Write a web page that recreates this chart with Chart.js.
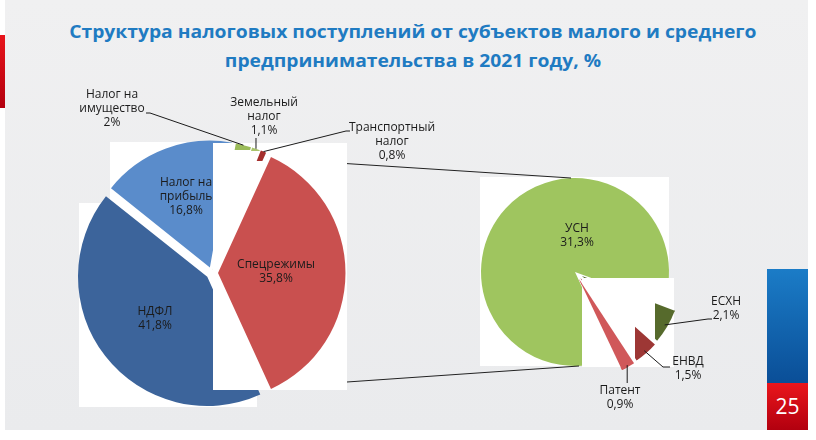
<!DOCTYPE html>
<html lang="ru">
<head>
<meta charset="utf-8">
<title>Структура налоговых поступлений МСП 2021</title>
<script src="https://cdn.jsdelivr.net/npm/chart.js"></script>
<style>
    html, body { margin: 0; padding: 0; background: #fff; }
    body { width: 816px; height: 440px; position: relative; overflow: hidden; font-family: 'Open Sans', sans-serif; }
    .slide { position: absolute; left: 5px; top: 0; width: 803px; height: 430px; background: linear-gradient(180deg, #f0f0f1 0%, #eaebed 100%); }
    .side-mark { position: absolute; left: 0; top: 35px; width: 5px; height: 73px; background: linear-gradient(#e8141b, #b3000e); }
    .page-tab { position: absolute; left: 767px; top: 269px; width: 41px; height: 114px; background: linear-gradient(#1b7cc7, #0a4e97); }
    .page-num { position: absolute; left: 767px; top: 383px; width: 41px; height: 47px; background: linear-gradient(#ea161c, #b2000f); color: #fff; font-size: 21px; line-height: 47px; text-align: center; }
    .title { position: absolute; left: 5px; width: 816px; text-align: center; line-height: 24px; }
    .title span { display: inline-block; font-weight: 700; font-size: 18px; color: #1f7bc2; white-space: nowrap; }
    canvas { position: absolute; left: 0; top: 0; }
</style>
</head>
<body>
<div class="slide"></div>
<div class="side-mark"></div>
<div class="title" style="top:19px"><span data-w="687">Структура налоговых поступлений от субъектов малого и среднего</span></div>
<div class="title" style="top:48px"><span data-w="376">предпринимательства в 2021 году, %</span></div>
<canvas id="subChart" width="816" height="440"></canvas>
<canvas id="mainChart" width="816" height="440"></canvas>
<div class="page-tab"></div>
<div class="page-num">25</div>

<script>
// main pie
const mainCategories = ['Спецрежимы', 'НДФЛ', 'Налог на прибыль', 'Налог на имущество', 'Земельный налог', 'Транспортный налог'];
const mainValues = [35.8, 41.8, 16.8, 2, 1.1, 0.8];
const mainColors = ['#c9504f', '#3c649b', '#5a8ccb', '#9bbb59', '#a9c46c', '#a5302e'];

// breakdown of "Спецрежимы"
const subCategories = ['ЕСХН', 'ЕНВД', 'Патент', 'УСН'];
const subValues = [2.1, 1.5, 0.9, 31.3];
const subColors = ['#566a2c', '#9d3735', '#d0585a', '#9fc55f'];

// label placement, px from the pie centre
const mainLabels = [
    { i: 2, lines: ['Налог на', 'прибыль'], dx: -26, dy: -90, under: true },
    { i: 0, lines: ['Спецрежимы'], dx: 64, dy: -8 },
    { i: 1, lines: ['НДФЛ'], dx: -57, dy: 39 },
    { i: 3, lines: ['Налог на', 'имущество'], dx: -100, dy: -178, leader: [[-62, -160], [-66, -160]] },
    { i: 4, lines: ['Земельный', 'налог'], dx: 52, dy: -170, drop: -135 },
    { i: 5, lines: ['Транспортный', 'налог'], dx: 180, dy: -145, leader: [[134, -142], [138, -142]] }
];
const subLabels = [
    { i: 3, lines: ['УСН'], dx: 2, dy: -43 },
    { i: 0, lines: ['ЕСХН'], dx: 151, dy: 30, inset: 3, leader: [[133, 47], [137, 47]] },
    { i: 1, lines: ['ЕНВД'], dx: 113, dy: 90, inset: 3, leader: [[88, 95], [95, 95]] },
    { i: 2, lines: ['Патент'], dx: 45, dy: 119, inset: 2, drop: 111 }
];

const fmt = v => String(v).replace('.', ',') + '%';

// outer point of a slice along its middle, taking the explode offset into account
function tip(el, inset) {
    const mid = (el.startAngle + el.endAngle) / 2;
    const shift = (el.options.offset || 0) / 4;
    const span = el.endAngle - el.startAngle;
    const r = el.outerRadius + shift * (1 - Math.sin(Math.min(Math.PI, span))) - (inset || 0);
    return { x: el.x + Math.cos(mid) * (shift + r), y: el.y + Math.sin(mid) * (shift + r) };
}

function drawLabel(ctx, arcs, lab, values) {
    const el = arcs[lab.i];
    const c = { x: el.x, y: el.y };
    ctx.save();
    ctx.font = '12px "Open Sans"';
    ctx.fillStyle = '#1b1b1b';
    ctx.textAlign = 'center';
    ctx.textBaseline = 'middle';
    lab.lines.concat(fmt(values[lab.i])).forEach((t, k) => {
        ctx.fillText(t, c.x + lab.dx, c.y + lab.dy + k * 14);
    });
    if (lab.leader || lab.drop) {
        const p = tip(el, lab.inset);
        ctx.strokeStyle = '#1b1b1b';
        ctx.lineWidth = 1;
        ctx.beginPath();
        ctx.moveTo(p.x, p.y);
        if (lab.drop) {
            ctx.lineTo(p.x, c.y + lab.drop);
        } else {
            lab.leader.forEach(q => ctx.lineTo(c.x + q[0], c.y + q[1]));
        }
        ctx.stroke();
    }
    ctx.restore();
}

const subPlugin = {
    id: 'subPie',
    beforeDatasetsDraw(chart) {
        const el = chart.getDatasetMeta(0).data[0];
        const ctx = chart.ctx;
        ctx.save();
        ctx.fillStyle = '#fff';
        ctx.fillRect(el.x - 95, el.y - 95, 189, 189);
        ctx.restore();
    },
    afterDatasetsDraw(chart) {
        const arcs = chart.getDatasetMeta(0).data;
        const ctx = chart.ctx;
        const c = { x: arcs[0].x, y: arcs[0].y };
        ctx.save();
        ctx.fillStyle = '#fff';
        ctx.fillRect(c.x + 7, c.y + 6, 92, 89);
        ctx.restore();
        // each small slice sits on its own cut-out, clipped on the left
        const cuts = [80, 60, null];
        cuts.forEach((cut, i) => {
            ctx.save();
            if (cut !== null) {
                ctx.beginPath();
                ctx.rect(c.x + cut, 0, chart.width, chart.height);
                ctx.clip();
            }
            arcs[i].draw(ctx);
            ctx.restore();
        });
        subLabels.forEach(l => drawLabel(ctx, arcs, l, subValues));
    }
};

let subChart;

const mainPlugin = {
    id: 'mainPie',
    beforeDatasetsDraw(chart) {
        const arcs = chart.getDatasetMeta(0).data;
        const ctx = chart.ctx;
        const spec = arcs[0];
        const c = { x: spec.x, y: spec.y };
        const r = spec.outerRadius;
        const sub = subChart.getDatasetMeta(0).data[0];
        ctx.save();
        // series lines towards the breakdown pie
        ctx.strokeStyle = '#222';
        ctx.lineWidth = 1;
        ctx.beginPath();
        ctx.moveTo(c.x + Math.cos(spec.startAngle) * r, c.y + Math.sin(spec.startAngle) * r);
        ctx.lineTo(sub.x - 4, sub.y - sub.outerRadius);
        ctx.moveTo(c.x + Math.cos(spec.endAngle) * r, c.y + Math.sin(spec.endAngle) * r);
        ctx.lineTo(sub.x + 4, sub.y + sub.outerRadius);
        ctx.stroke();
        // white picture frames behind the slices
        ctx.fillStyle = '#fff';
        ctx.fillRect(c.x - 102, c.y - 131, 103, 126);
        ctx.fillRect(c.x - 133, c.y - 70, 178, 204);
        ctx.restore();
    },
    afterDatasetsDraw(chart) {
        const arcs = chart.getDatasetMeta(0).data;
        const ctx = chart.ctx;
        const c = { x: arcs[0].x, y: arcs[0].y };
        mainLabels.filter(l => l.under).forEach(l => drawLabel(ctx, arcs, l, mainValues));
        ctx.save();
        ctx.fillStyle = '#fff';
        ctx.fillRect(c.x + 1, c.y - 130, 134, 247);
        ctx.restore();
        arcs[0].draw(ctx);
        // only the outer tips of the three smallest slices show above the frame
        const tipDepth = [123, 122, 112];
        arcs.slice(3).forEach((a, k) => {
            ctx.save();
            ctx.beginPath();
            ctx.rect(0, 0, chart.width, c.y - tipDepth[k]);
            ctx.clip();
            a.draw(ctx);
            ctx.restore();
        });
        mainLabels.filter(l => !l.under).forEach(l => drawLabel(ctx, arcs, l, mainValues));
    }
};

function pieOptions(rotation, radius, padding) {
    return {
        responsive: false,
        animation: false,
        rotation: rotation,
        radius: radius,
        layout: { padding: padding },
        events: [],
        plugins: {
            legend: { display: false },
            tooltip: { enabled: false }
        }
    };
}

subChart = new Chart(document.getElementById('subChart'), {
    type: 'pie',
    data: {
        labels: subCategories,
        datasets: [{
            data: subValues,
            backgroundColor: subColors,
            borderWidth: 0,
            offset: [32, 32, 32, 0]
        }]
    },
    options: pieOptions(110, 94, { left: 334, right: 0, top: 104, bottom: 0 }),
    plugins: [subPlugin]
});

const mainTotal = mainValues.reduce((a, b) => a + b, 0);

new Chart(document.getElementById('mainChart'), {
    type: 'pie',
    data: {
        labels: mainCategories,
        datasets: [{
            data: mainValues,
            backgroundColor: mainColors,
            borderWidth: 0,
            offset: [24, 24, 24, 12, 12, 12]
        }]
    },
    // "Спецрежимы" centred on the right, facing the breakdown pie
    options: pieOptions(90 - mainValues[0] / mainTotal * 180, 126, { left: 0, right: 392, top: 106, bottom: 0 }),
    plugins: [mainPlugin]
});

// stretch the title lines to the slide's width
document.querySelectorAll('.title span').forEach(s => {
    const w = s.getBoundingClientRect().width;
    s.style.transform = 'scaleX(' + (s.dataset.w / w).toFixed(3) + ')';
});
</script>
</body>
</html>
